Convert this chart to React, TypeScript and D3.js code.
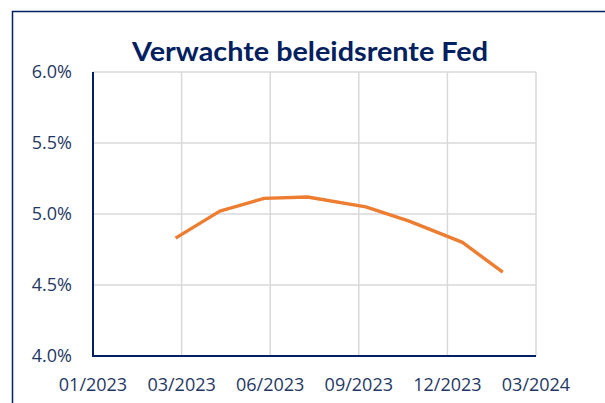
import { useRef, useEffect } from "react";
import * as d3 from "d3";

const dates = [
  "2023-03-24",
  "2023-05-07",
  "2023-06-20",
  "2023-08-02",
  "2023-09-29",
  "2023-11-11",
  "2024-01-03",
  "2024-02-12",
];
const rates = [4.83, 5.02, 5.11, 5.12, 5.05, 4.95, 4.8, 4.59];
const xTicks = [
  "2023-01-01",
  "2023-03-30",
  "2023-06-26",
  "2023-09-22",
  "2023-12-19",
  "2024-03-16",
];
const yTicks = [4.0, 4.5, 5.0, 5.5, 6.0];

const W = 605;
const H = 403;
const navy = "#002060";
const textCol = "#1f3864";
const font = "'Open Sans', sans-serif";

const App = () => {
  const ref = useRef<SVGSVGElement>(null);

  useEffect(() => {
    const svg = d3.select(ref.current);
    svg.selectAll("*").remove();

    const parse = d3.utcParse("%Y-%m-%d");
    const x = d3
      .scaleUtc()
      .domain([parse(xTicks[0])!, parse(xTicks[xTicks.length - 1])!])
      .range([93, 536]);
    const y = d3.scaleLinear().domain([4, 6]).range([356, 72]);

    // outer frame (runs off the right/bottom edge)
    svg
      .append("rect")
      .attr("x", 12.5)
      .attr("y", 11.5)
      .attr("width", 700)
      .attr("height", 500)
      .attr("fill", "none")
      .attr("stroke", navy)
      .attr("stroke-width", 1.5);

    svg
      .append("text")
      .attr("x", 310)
      .attr("y", 61)
      .attr("text-anchor", "middle")
      .attr("font-family", "Lato, sans-serif")
      .attr("font-weight", 700)
      .attr("font-size", 26)
      .attr("fill", navy)
      .attr("textLength", 356)
      .attr("lengthAdjust", "spacingAndGlyphs")
      .text("Verwachte beleidsrente Fed");

    const g = svg.append("g");

    // gridlines
    g.selectAll("line.h")
      .data(yTicks)
      .enter()
      .append("line")
      .attr("x1", 93)
      .attr("x2", 536)
      .attr("y1", (d) => y(d))
      .attr("y2", (d) => y(d))
      .attr("stroke", "#d9d9d9")
      .attr("stroke-width", 1.5);

    g.selectAll("line.v")
      .data(xTicks)
      .enter()
      .append("line")
      .attr("x1", (d) => x(parse(d)!))
      .attr("x2", (d) => x(parse(d)!))
      .attr("y1", 72)
      .attr("y2", 356)
      .attr("stroke", "#d9d9d9")
      .attr("stroke-width", 1.5);

    // axis lines
    g.append("line")
      .attr("x1", 93)
      .attr("x2", 93)
      .attr("y1", 72)
      .attr("y2", 356)
      .attr("stroke", navy)
      .attr("stroke-width", 2);
    g.append("line")
      .attr("x1", 92)
      .attr("x2", 536)
      .attr("y1", 356)
      .attr("y2", 356)
      .attr("stroke", navy)
      .attr("stroke-width", 2);

    // tick labels
    g.selectAll("text.y")
      .data(yTicks)
      .enter()
      .append("text")
      .attr("x", 72)
      .attr("y", (d) => y(d))
      .attr("dy", "0.35em")
      .attr("text-anchor", "end")
      .attr("font-family", font)
      .attr("font-size", 18)
      .attr("fill", textCol)
      .text((d) => d3.format(".1f")(d) + "%");

    const fmt = d3.utcFormat("%m/%Y");
    g.selectAll("text.x")
      .data(xTicks)
      .enter()
      .append("text")
      .attr("x", (d) => x(parse(d)!))
      .attr("y", 391)
      .attr("text-anchor", "middle")
      .attr("font-family", font)
      .attr("font-size", 18)
      .attr("fill", textCol)
      .text((d) => fmt(parse(d)!));

    // series line
    const pts = dates.map((d, i) => [parse(d)!, rates[i]] as [Date, number]);
    const line = d3
      .line<[Date, number]>()
      .x((d) => x(d[0]))
      .y((d) => y(d[1]));

    g.append("path")
      .datum(pts)
      .attr("d", line)
      .attr("fill", "none")
      .attr("stroke", "#ed7d31")
      .attr("stroke-width", 3.4)
      .attr("stroke-linejoin", "round");
  }, []);

  return (
    <svg
      ref={ref}
      width={W}
      height={H}
      style={{ position: "absolute", left: 0, top: 0, background: "#fff" }}
    />
  );
};

export default App;
